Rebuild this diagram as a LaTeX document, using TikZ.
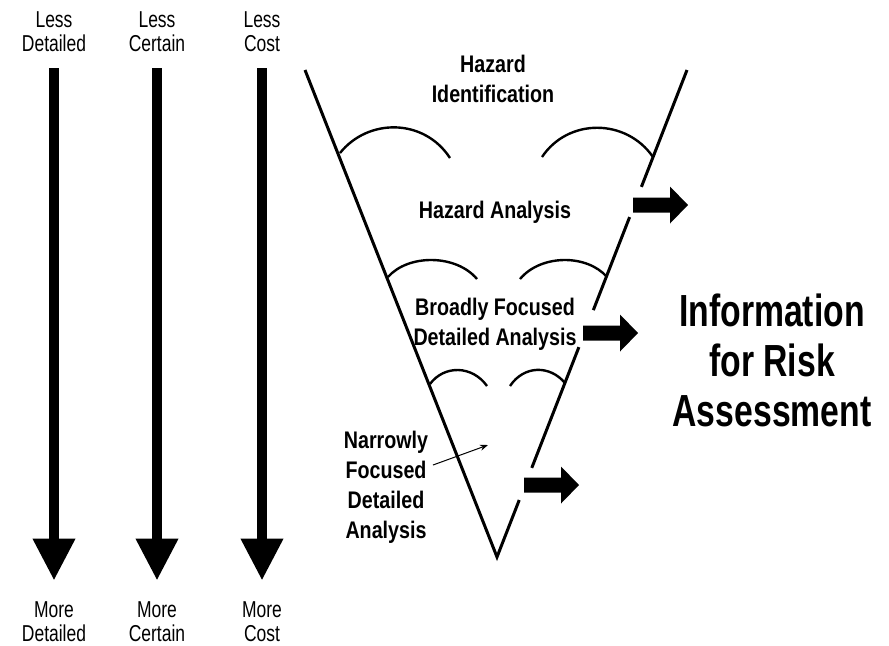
\documentclass[tikz,border=0pt]{standalone}
\usepackage{fontspec}
\setmainfont{Liberation Sans}
\newfontfamily\sidefont[FakeStretch=0.76]{Liberation Sans}
\newfontfamily\stagefont[FakeStretch=0.82]{Liberation Sans}
\newfontfamily\infofont[FakeStretch=0.75]{Liberation Sans}
\usetikzlibrary{arrows.meta,calc}
\tikzset{
    side label/.style = {
        font=\sidefont\fontsize{11.5}{12}\selectfont,
        align=center,
        inner sep=0pt,
        },
    stage/.style = {
        font=\stagefont\bfseries\fontsize{12}{15}\selectfont,
        align=center,
        inner sep=0pt,
        },
    info/.style = {
        font=\infofont\bfseries\fontsize{22.5}{25}\selectfont,
        align=center,
        inner sep=0pt,
        },
    scale arrow/.style = {
        line width=5pt,
        -{Triangle[length=21pt, width=20pt]},
        },
    funnel/.style = {
        line width=1.5pt,
        },
    level arc/.style = {
        line width=1.2pt,
        },
    pointer/.style = {
        line width=0.5pt,
        -{Stealth[length=4pt, width=3pt]},
        },
    out arrow/.pic = {
        \fill (0,-7.5) -- (37,-7.5) -- (37,-18.5) -- (55,0) -- (37,18.5) -- (37,7.5) -- (0,7.5) -- cycle;
        },
}

\begin{document}
\begin{tikzpicture}[x=0.5pt, y=-0.5pt]
            \useasboundingbox (0,0) rectangle (889,645);

            % the three scales on the left
            \node[side label] (lessD) at (54,32) {Less\\Detailed};
            \node[side label] (lessC) at (157,32) {Less\\Certain};
            \node[side label] (lessK) at (262,32) {Less\\Cost};
            \node[side label] (moreD) at (54,622) {More\\Detailed};
            \node[side label] (moreC) at (157,622) {More\\Certain};
            \node[side label] (moreK) at (262,622) {More\\Cost};

            \draw[scale arrow, shorten <=8pt, shorten >=10.5pt] (lessD) -- (moreD);
            \draw[scale arrow, shorten <=8pt, shorten >=10.5pt] (lessC) -- (moreC);
            \draw[scale arrow, shorten <=8pt, shorten >=10.5pt] (lessK) -- (moreK);

            % the funnel
            \coordinate (ltop) at (305,70);
            \coordinate (rtop) at (687,70);
            \coordinate (tip) at (497,557);
            \draw[funnel] (ltop) -- (tip) -- ($(rtop)!0.883!(tip)$);
            \foreach \a/\b in {0/0.240, 0.302/0.493, 0.569/0.817}
                \draw[funnel] ($(rtop)!\a!(tip)$) -- ($(rtop)!\b!(tip)$);

            \draw[level arc] (340,153) .. controls (368,118) and (424,118) .. (450,158);
            \draw[level arc] (542,157) .. controls (568,118) and (626,118) .. (653,157);
            \draw[level arc] (388,277) .. controls (408,254) and (456,254) .. (477,279);
            \draw[level arc] (520,279) .. controls (541,254) and (587,254) .. (607,277);
            \draw[level arc] (430,384) .. controls (444,365) and (472,365) .. (487,386);
            \draw[level arc] (510,386) .. controls (524,365) and (550,365) .. (565,383);

            \node[stage] (ident) at (493,79) {Hazard\\Identification};
            \node[stage] (analysis) at (495,212) {Hazard Analysis};
            \node[stage] (broad) at (495,324) {Broadly Focused\\Detailed Analysis};
            \node[stage] (narrow) at (386,487) {Narrowly\\Focused\\Detailed\\Analysis};

            \coordinate (nstart) at (433,465);
            \coordinate (ntarget) at (488,445);
            \draw[pointer] (nstart) -- (ntarget);

            % outputs
            \pic at (633,205) {out arrow};
            \pic at (583,333) {out arrow};
            \pic at (524,485) {out arrow};

            \node[info] (info) at (772,360) {Information\\for Risk\\Assessment};
\end{tikzpicture}
\end{document}
